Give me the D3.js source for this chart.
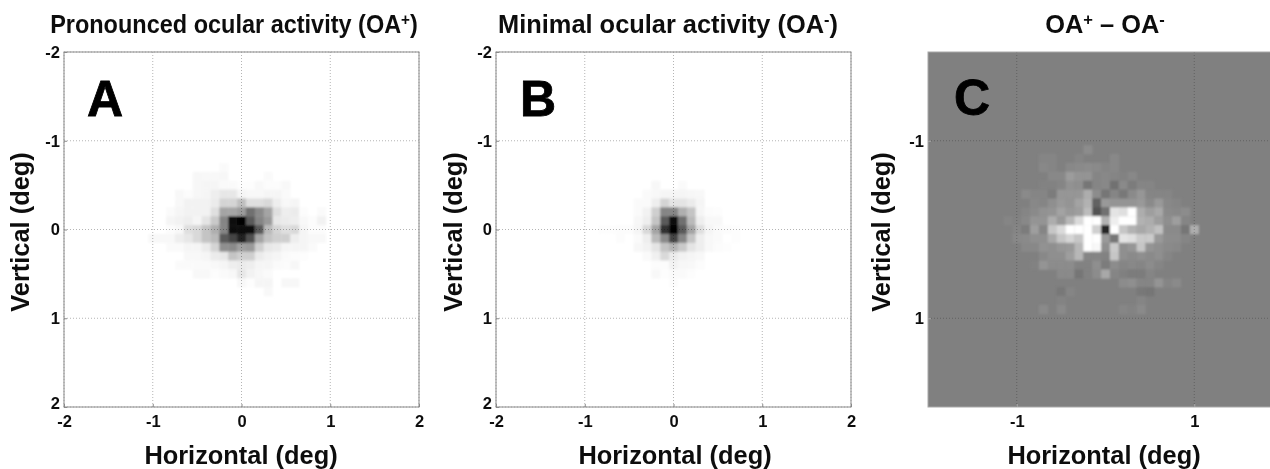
<!DOCTYPE html>
<html>
<head>
<meta charset="utf-8">
<style>
  html, body { margin: 0; padding: 0; background: #fff; overflow: hidden; }
  svg { display: block; font-family: "Liberation Sans", Arial, sans-serif; font-weight: bold; }
</style>
<script src="https://cdn.jsdelivr.net/npm/d3@7"></script>
</head>
<body>
<svg id="chart" width="1270" height="469"></svg>
<script>
// Cell positions, in units of 0.1 deg from the centre
const colsAB = [-10,-9,-8,-7,-6,-5,-4,-3,-2,-1,0,1,2,3,4,5,6,7,8,9,10];
const rowsA  = [-7,-6,-5,-4,-3,-2,-1,0,1,2,3,4,5,6,7];
const rowsB  = [-5,-4,-3,-2,-1,0,1,2,3,4,5,6];
const colsC  = [-11,-10,-9,-8,-7,-6,-5,-4,-3,-2,-1,0,1,2,3,4,5,6,7,8,9,10];
const rowsC  = [-9,-8,-7,-6,-5,-4,-3,-2,-1,0,1,2,3,4,5,6,7,8,9];

// Panel A: darkness, 0 = white, 255 = black
const densityA = [
  [0,0,0,0,0,0,0,0,8,0,0,0,0,0,0,0,0,0,0,0,0],
  [0,0,0,0,0,12,10,10,12,0,0,0,0,8,0,0,0,0,0,0,0],
  [0,0,0,0,0,12,15,15,8,8,3,3,10,5,5,10,0,0,0,0,0],
  [0,0,0,10,5,12,15,25,35,35,15,10,10,15,15,8,0,0,0,0,0],
  [0,0,0,10,20,20,20,30,55,55,75,45,45,50,25,10,15,0,0,0,0],
  [0,0,8,15,20,20,20,45,100,100,110,150,125,100,45,25,30,5,0,8,0],
  [0,0,15,20,25,15,40,65,130,240,255,170,130,110,35,30,25,10,5,20,0],
  [0,0,5,10,45,50,70,90,130,240,245,240,170,80,55,45,50,15,5,5,0],
  [10,10,10,25,35,50,70,80,170,190,225,180,100,70,60,60,25,15,10,10,0],
  [0,0,8,8,15,15,30,55,120,125,105,110,60,35,30,15,15,15,8,0,0],
  [0,0,0,0,10,10,15,30,35,70,60,60,30,20,15,8,5,3,0,0,0],
  [0,0,0,8,8,8,8,10,15,25,30,25,15,15,8,5,12,0,0,0,0],
  [0,0,0,0,0,10,10,3,8,10,35,20,12,8,0,0,0,0,0,0,0],
  [0,0,0,0,0,0,0,0,0,0,10,3,15,15,0,12,12,0,0,0,0],
  [0,0,0,0,0,0,0,0,0,0,0,0,0,10,0,0,0,0,0,0,0]
];

// Panel B: darkness, 0 = white, 255 = black
const densityB = [
  [0,0,0,0,0,0,0,0,12,0,0,8,0,0,0,0,0,0,0,0,0],
  [0,0,0,0,0,0,0,8,10,15,15,15,12,10,0,0,0,0,0,0,0],
  [0,0,0,0,0,0,8,8,25,55,40,40,30,15,0,0,0,0,0,0,0],
  [0,0,0,0,0,0,8,20,60,130,130,90,70,15,5,3,0,0,0,0,0],
  [0,0,0,0,0,0,12,25,70,170,240,150,80,25,10,10,0,0,0,0,0],
  [0,0,3,3,5,5,15,50,100,210,255,170,100,45,15,8,5,3,0,0,0],
  [0,0,0,0,5,0,8,25,80,125,190,130,70,25,10,8,0,3,0,0,0],
  [0,0,0,0,0,0,12,20,40,70,85,65,40,25,10,5,3,0,0,0,0],
  [0,0,0,0,0,0,0,8,22,50,30,20,15,10,0,0,0,0,0,0,0],
  [0,0,0,0,0,0,0,0,5,5,20,12,10,5,0,0,0,0,0,0,0],
  [0,0,0,0,0,0,0,0,10,3,8,8,3,0,0,0,0,0,0,0,0],
  [0,0,0,0,0,0,0,0,0,0,5,0,0,0,0,0,0,0,0,0,0]
];

// Panel C: difference from the mid grey background
const diffC = [
  [0,0,0,0,0,0,0,0,0,12,0,0,0,0,0,0,0,0,0,0,0,0],
  [0,0,0,0,5,5,0,0,5,0,0,0,8,0,0,0,0,0,0,0,0,0],
  [0,0,0,0,8,5,0,8,10,12,10,5,8,0,0,0,0,0,0,0,0,0],
  [0,0,0,0,0,8,8,28,20,20,5,8,5,2,8,0,0,0,0,0,0,0],
  [0,0,0,0,2,2,5,18,15,-10,5,8,-15,10,-5,5,5,0,0,0,0,0],
  [0,0,10,5,5,-5,22,22,22,45,12,-10,5,-8,10,22,5,5,5,0,0,0],
  [0,0,0,8,5,15,25,20,35,50,-30,25,20,20,20,25,10,25,8,5,0,0],
  [0,0,5,10,18,20,35,25,30,60,-45,-15,100,95,127,45,30,40,10,8,12,0],
  [5,2,8,20,20,45,25,55,90,127,127,50,110,127,127,50,45,30,15,30,5,0],
  [0,5,-5,30,5,70,90,127,127,127,80,-90,127,70,50,40,50,65,10,10,-10,45],
  [0,8,10,15,15,40,70,85,70,127,127,25,-10,100,95,75,75,25,12,12,5,0],
  [0,0,8,8,18,15,22,25,55,127,120,15,75,15,22,70,20,15,10,8,0,0],
  [0,0,0,0,8,15,15,30,55,5,5,2,70,15,10,15,10,15,5,0,0,0],
  [0,0,0,2,20,12,12,12,2,2,15,-5,12,5,8,5,12,5,0,0,0,0],
  [0,0,0,0,0,0,10,10,-10,2,12,40,5,0,-5,-5,5,0,0,0,0,0],
  [0,0,0,0,0,0,0,0,0,0,0,0,0,12,15,5,5,20,5,10,0,0],
  [0,0,0,0,0,0,-8,5,0,0,0,0,0,0,0,-8,-10,0,0,0,0,0],
  [0,0,0,0,0,0,3,0,0,0,0,0,0,0,0,5,0,0,0,0,0,0],
  [0,0,0,0,10,0,10,0,0,0,0,0,0,6,3,10,0,0,0,0,0,0]
];

const ticksAB = [-2,-1,0,1,2];
const ticksC  = [-1,1];

const svg = d3.select("#chart");
const defs = svg.append("defs");
defs.append("filter").attr("id", "soft")
  .attr("x", "-5%").attr("y", "-5%").attr("width", "110%").attr("height", "110%")
  .append("feGaussianBlur").attr("stdDeviation", 1);
defs.append("filter").attr("id", "softText")
  .attr("x", "-5%").attr("y", "-5%").attr("width", "110%").attr("height", "110%")
  .append("feGaussianBlur").attr("stdDeviation", 0.4);

// faint cells sit lighter than a straight ramp would put them
const darkScale = d3.scaleLinear().domain([0, 40, 255]).range(["#ffffff", "#e4e4e4", "#000000"]);
const diffScale = d3.scaleLinear().domain([-128, 0, 127]).range(["#000000", "#808080", "#ffffff"]);

function drawPanel(p) {
  const x = d3.scaleLinear().domain([-2, 2]).range([p.left, p.left + 355]);
  const y = d3.scaleLinear().domain([-2, 2]).range([52, 407]);
  const cell = x(0.1) - x(0);

  const g = svg.append("g");
  g.append("rect")
    .attr("x", x(-2)).attr("y", y(-2))
    .attr("width", 355).attr("height", 355)
    .attr("fill", p.bg);

  const clipId = "clip" + p.letter;
  defs.append("clipPath").attr("id", clipId)
    .append("rect").attr("x", x(-2)).attr("y", y(-2)).attr("width", 355).attr("height", 355);

  // density cells
  const cells = [];
  p.values.forEach((row, i) => row.forEach((v, j) => {
    if (v !== 0) cells.push({ col: p.cols[j], row: p.rows[i], v });
  }));
  g.append("g").attr("clip-path", `url(#${clipId})`)
    .append("g").attr("filter", "url(#soft)")
    .selectAll("rect")
    .data(cells)
    .join("rect")
      .attr("x", d => x(d.col / 10) - cell / 2)
      .attr("y", d => y(d.row / 10) - cell / 2)
      .attr("width", cell + 0.3)
      .attr("height", cell + 0.3)
      .attr("fill", d => p.color(d.v));

  // dotted grid, multiplied so it only shows on the lighter cells
  const grid = g.append("g").style("mix-blend-mode", "multiply");
  grid.append("g").selectAll("line").data(p.ticks).join("line")
    .attr("x1", d => x(d)).attr("x2", d => x(d))
    .attr("y1", y(-2)).attr("y2", y(2))
    .attr("stroke", p.gridColor).attr("stroke-dasharray", "1,2");
  grid.append("g").selectAll("line").data(p.ticks).join("line")
    .attr("y1", d => y(d)).attr("y2", d => y(d))
    .attr("x1", x(-2)).attr("x2", x(2))
    .attr("stroke", p.gridColor).attr("stroke-dasharray", "1,2");

  // frame
  g.append("rect")
    .attr("x", x(-2)).attr("y", y(-2))
    .attr("width", 355).attr("height", 355)
    .attr("fill", "none").attr("stroke", p.frameColor);

  // axes
  const axisX = g.append("g").attr("transform", `translate(0,${y(2)})`)
    .call(d3.axisBottom(x).tickValues(p.ticks).tickSize(-3).tickPadding(8).tickFormat(d => d));
  const axisY = g.append("g").attr("transform", `translate(${x(-2)},0)`)
    .call(d3.axisLeft(y).tickValues(p.ticks).tickSize(-3).tickPadding(4).tickFormat(d => d));
  [axisX, axisY].forEach(a => {
    a.select(".domain").remove();
    a.selectAll("line").attr("stroke", p.frameColor);
    a.selectAll("text")
      .attr("fill", "#111")
      .attr("filter", "url(#softText)")
      .style("font-family", '"Liberation Sans", Arial, sans-serif')
      .style("font-weight", "bold")
      .style("font-size", "16.5px");
  });
  axisY.selectAll("text").filter(d => d === 2).attr("dy", ".1em");

  // labels
  g.append("text")
    .attr("x", p.letterX).attr("y", p.letterY)
    .attr("font-size", 50)
    .attr("fill", "#000")
    .attr("stroke", "#000").attr("stroke-width", 0.8)
    .attr("filter", "url(#softText)")
    .text(p.letter);
  g.append("text")
    .attr("x", p.xLabelX).attr("y", 464)
    .attr("text-anchor", "middle")
    .attr("font-size", 25.4)
    .attr("fill", "#111")
    .attr("filter", "url(#softText)")
    .text("Horizontal (deg)");
  g.append("text")
    .attr("transform", `translate(${p.yLabelX},232) rotate(-90)`)
    .attr("text-anchor", "middle")
    .attr("font-size", 25.4)
    .attr("fill", "#111")
    .attr("filter", "url(#softText)")
    .text("Vertical (deg)");

  const title = g.append("text")
    .attr("transform", `translate(${p.titleX},33) scale(${p.titleScale},1)`)
    .attr("text-anchor", "middle")
    .attr("font-size", 25.4)
    .attr("fill", "#111")
    .attr("filter", "url(#softText)");
  p.title.forEach(part => {
    title.append("tspan")
      .attr("dy", part.sup ? -8 : (part.after ? 8 : 0))
      .attr("font-size", part.sup ? 16.5 : 25.4)
      .text(part.text);
  });
}

drawPanel({
  letter: "A", left: 64, bg: "#ffffff", values: densityA, cols: colsAB, rows: rowsA,
  color: darkScale, ticks: ticksAB, gridColor: "#b4b4b4", frameColor: "#8a8a8a",
  letterX: 87, letterY: 116, xLabelX: 241, yLabelX: 29, titleX: 234, titleScale: 0.925,
  title: [{ text: "Pronounced ocular activity (OA" }, { text: "+", sup: true }, { text: ")", after: true }]
});
drawPanel({
  letter: "B", left: 496, bg: "#ffffff", values: densityB, cols: colsAB, rows: rowsB,
  color: darkScale, ticks: ticksAB, gridColor: "#b4b4b4", frameColor: "#8a8a8a",
  letterX: 520, letterY: 116, xLabelX: 675, yLabelX: 462, titleX: 668, titleScale: 1,
  title: [{ text: "Minimal ocular activity (OA" }, { text: "-", sup: true }, { text: ")", after: true }]
});
drawPanel({
  letter: "C", left: 928, bg: "#808080", values: diffC, cols: colsC, rows: rowsC,
  color: diffScale, ticks: ticksC, gridColor: "#c0c0c0", frameColor: "#a8a8a8",
  letterX: 954, letterY: 115, xLabelX: 1104, yLabelX: 890, titleX: 1105, titleScale: 1,
  title: [{ text: "OA" }, { text: "+", sup: true }, { text: " – OA", after: true }, { text: "-", sup: true }]
});
</script>
</body>
</html>
